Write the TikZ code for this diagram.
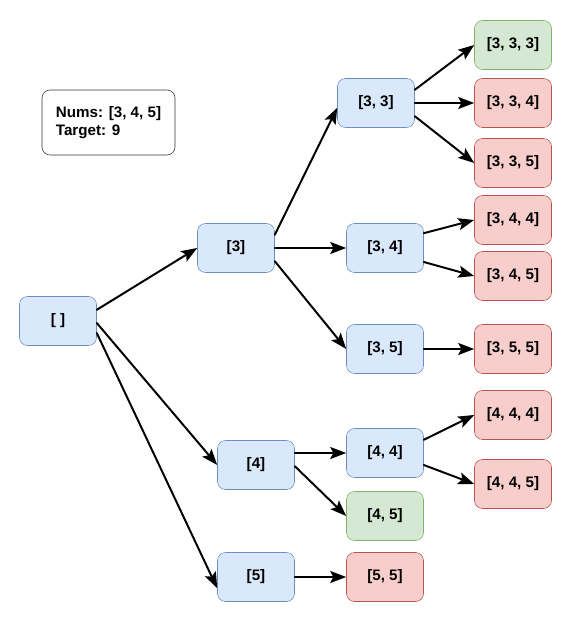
\documentclass[tikz,border=0pt]{standalone}
\usepackage{fontspec}
\setmainfont{Liberation Sans}
\usetikzlibrary{arrows.meta}
\definecolor{bluefill}{HTML}{DAE8FC}
\definecolor{blueline}{HTML}{6C8EBF}
\definecolor{greenfill}{HTML}{D5E8D4}
\definecolor{greenline}{HTML}{82B366}
\definecolor{redfill}{HTML}{F8CECC}
\definecolor{redline}{HTML}{B85450}
\tikzset{
  state/.style={draw=blueline, fill=bluefill, rounded corners=0.2cm, minimum width=1.925cm, minimum height=1.225cm},
  hit/.style={state, draw=greenline, fill=greenfill},
  miss/.style={state, draw=redline, fill=redfill},
  edge/.style={-{Stealth[length=0.4cm, width=0.3cm, inset=0.08cm]}, line width=1.4pt},
}
\begin{document}
\begin{tikzpicture}[x=0.025cm, y=-0.025cm, line cap=round, line join=round, font=\fontsize{10.8}{13}\selectfont\bfseries]
				\useasboundingbox (0,0) rectangle (577,617);
				% info box
				\node[draw=black!80, rounded corners=0.2cm, minimum width=3.325cm, minimum height=1.625cm, align=left] (info) at (108.5,122.5) {Nums: [3, 4, 5]\\Target: 9};
				% level 0 and 1
				\node[state] (root) at (58,321) {[ ]};
				\node[state] (n3) at (236,248) {[3]};
				\node[state] (n4) at (256,465) {[4]};
				\node[state] (n5) at (256,577) {[5]};
				% level 2
				\node[state] (n33) at (376,103) {[3, 3]};
				\node[state] (n34) at (385,248) {[3, 4]};
				\node[state] (n35) at (385,349) {[3, 5]};
				\node[state] (n44) at (385,453) {[4, 4]};
				\node[hit] (n45) at (385,516) {[4, 5]};
				\node[miss] (n55) at (385,577) {[5, 5]};
				% level 3
				\node[hit] (n333) at (513,45) {[3, 3, 3]};
				\node[miss] (n334) at (513,103) {[3, 3, 4]};
				\node[miss] (n335) at (513,163) {[3, 3, 5]};
				\node[miss] (n344) at (513,220) {[3, 4, 4]};
				\node[miss] (n345) at (513,276) {[3, 4, 5]};
				\node[miss] (n355) at (513,349) {[3, 5, 5]};
				\node[miss] (n444) at (513,415) {[4, 4, 4]};
				\node[miss] (n445) at (513,484) {[4, 4, 5]};
				% edges
				\draw[edge] ([yshift=0.28cm]root.east) -- (n3.west);
				\draw[edge] ([yshift=-0.05cm]root.east) -- (n4.west);
				\draw[edge] ([yshift=-0.3cm]root.east) -- ([yshift=-0.28cm]n5.west);
				\draw[edge] ([yshift=0.33cm]n3.east) -- ([yshift=-0.12cm]n33.west);
				\draw[edge] (n3.east) -- (n34.west);
				\draw[edge] ([yshift=-0.33cm]n3.east) -- (n35.west);
				\draw[edge] ([yshift=0.33cm]n33.east) -- (n333.west);
				\draw[edge] (n33.east) -- (n334.west);
				\draw[edge] ([yshift=-0.33cm]n33.east) -- (n335.west);
				\draw[edge] ([yshift=0.37cm]n34.east) -- (n344.west);
				\draw[edge] ([yshift=-0.35cm]n34.east) -- (n345.west);
				\draw[edge] (n35.east) -- (n355.west);
				\draw[edge] ([yshift=0.3cm]n4.east) -- (n44.west);
				\draw[edge] ([yshift=-0.03cm]n4.east) -- (n45.west);
				\draw[edge] ([yshift=0.33cm]n44.east) -- (n444.west);
				\draw[edge] ([yshift=-0.3cm]n44.east) -- (n445.west);
				\draw[edge] (n5.east) -- (n55.west);
			\end{tikzpicture}
\end{document}
